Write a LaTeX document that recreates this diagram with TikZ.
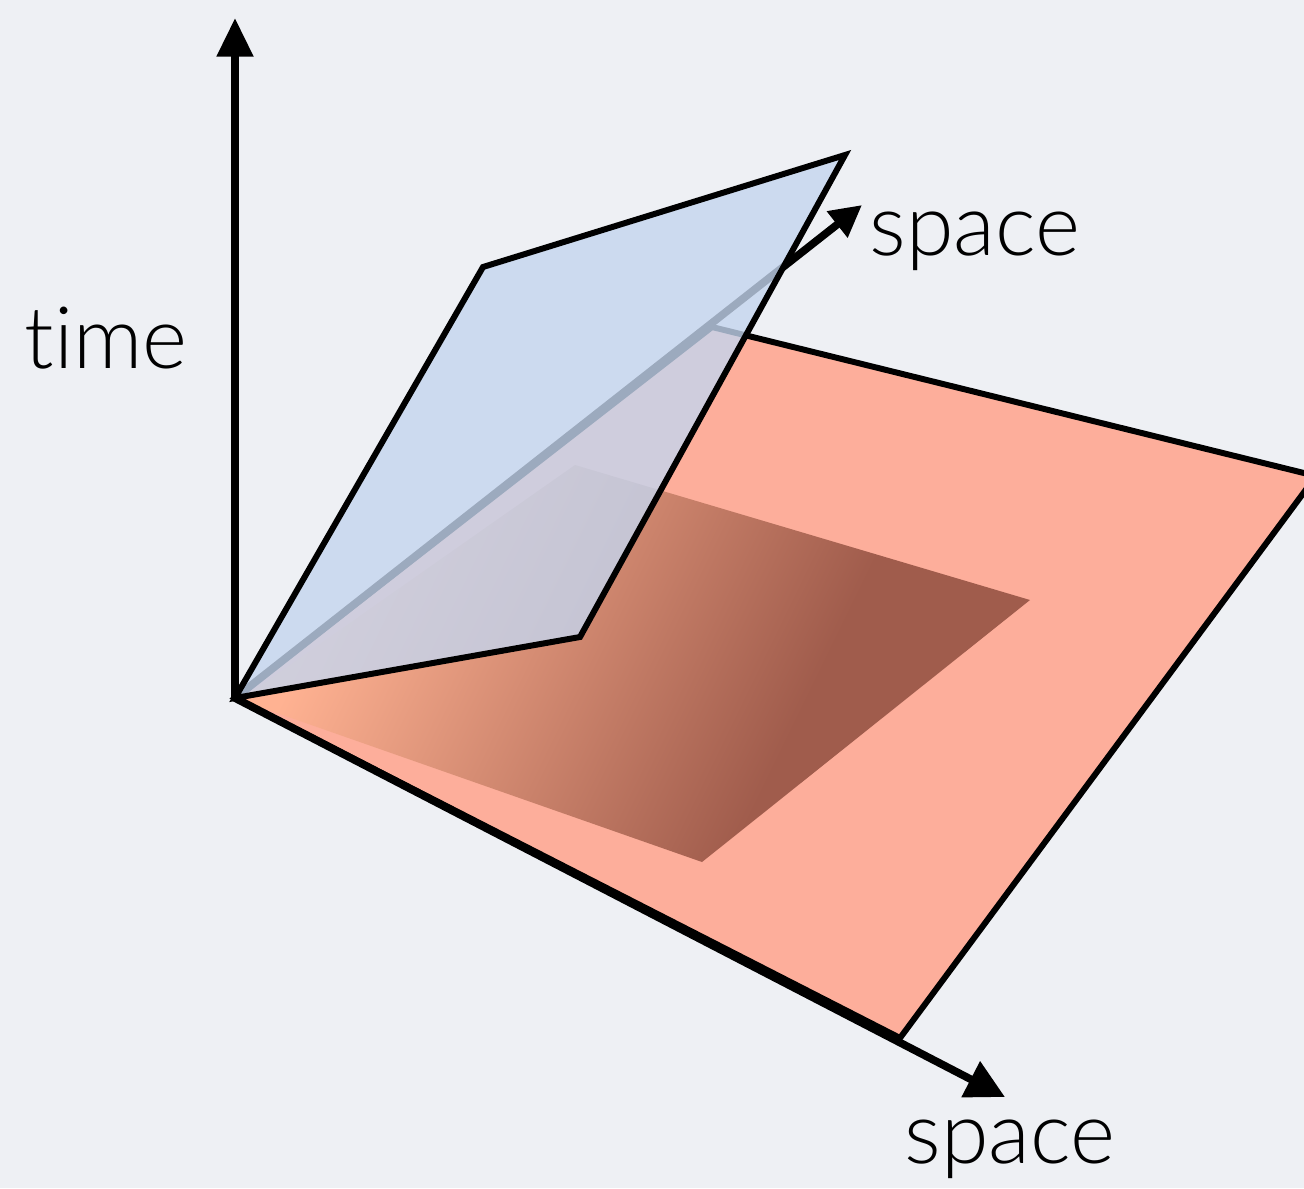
\documentclass[tikz,border=0pt]{standalone}
\usepackage{fontspec}
\setmainfont{Lato Light}
\usepackage{tikz}
\usetikzlibrary{arrows.meta}

\definecolor{bgcol}{HTML}{EEF0F4}
\definecolor{planered}{HTML}{FDAE9B}
\definecolor{planeblue}{HTML}{C4D5EE}
\definecolor{shadowlight}{HTML}{FFB292}
\definecolor{shadowdark}{HTML}{A05C4C}

\pgfdeclarehorizontalshading{shadowfade}{100bp}{
    color(0bp)=(shadowlight); color(27bp)=(shadowlight);
    color(63bp)=(shadowdark); color(100bp)=(shadowdark)}

\begin{document}
\begin{tikzpicture}[
    x=0.01cm, y=-0.01cm,
    axis/.style={line width=2.2pt, line join=miter},
    edge/.style={draw=black, line width=1.7pt, line join=miter},
    axislabel/.style={anchor=base, inner sep=0pt, font=\fontsize{24.5}{30}\selectfont}
]

% Background
\useasboundingbox (0,0) rectangle (1304,1188);
\fill[bgcol] (0,0) rectangle (1304,1188);

% Corners
\coordinate (O) at (235,698);
\coordinate (timeTip) at (235,18);
\coordinate (spaceTip) at (1005,1097);
\coordinate (depthTip) at (862,205);
\coordinate (redA) at (712,327);
\coordinate (redR) at (1316,476);
\coordinate (redB) at (900,1038);
\coordinate (blueA) at (483,267);
\coordinate (blueB) at (845,155);
\coordinate (blueC) at (580,637);

% Ground plane
\filldraw[edge, fill=planered] (O) -- (redA) -- (redR) -- (redB) -- cycle;

% Shadow
\shade[shading=shadowfade, shading angle=-26]
    (240,700) -- (575,465) -- (1030,600) -- (702,862) -- cycle;

% Axes
\draw[axis, {Triangle[length=11pt, width=10pt]}-{Triangle[length=11pt, width=11pt]}]
    (timeTip) -- (O) -- (spaceTip);
\draw[axis, -{Triangle[length=9pt, width=9pt]}] (O) -- (depthTip);

% Tilted plane
\fill[planeblue, fill opacity=0.8] (O) -- (blueA) -- (blueB) -- (blueC) -- cycle;
\draw[edge] (O) -- (blueA) -- (blueB) -- (blueC) -- cycle;

% Labels
\node[axislabel] (timeLbl) at (106,368) {t\kern0pt ime};
\node[axislabel] (depthLbl) at (975,255) {space};
\node[axislabel] (spaceLbl) at (1010,1163) {space};

\end{tikzpicture}
\end{document}
